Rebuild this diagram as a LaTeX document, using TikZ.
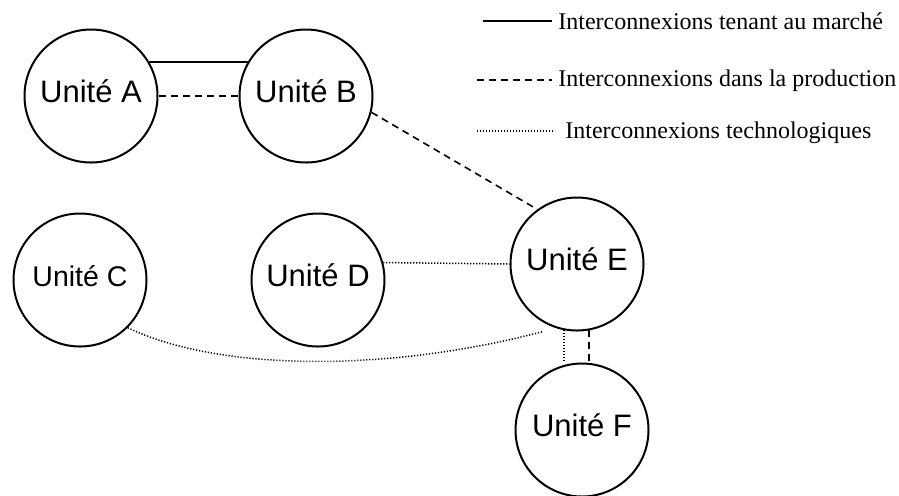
\documentclass[tikz,border=0pt]{standalone}
\usepackage{fontspec}
\setmainfont{Liberation Serif}
\newfontfamily\unitfont{Liberation Sans}
\usetikzlibrary{calc}

\begin{document}
\begin{tikzpicture}[x=0.5pt,y=-0.5pt,
  unit/.style={circle,draw,line width=1pt,minimum size=66.5pt,inner sep=0pt,
    font=\unitfont\fontsize{15.5}{18}\selectfont,text height=11.6pt,text depth=5.1pt},
  market/.style={line width=1pt},
  prod/.style={line width=0.8pt,dash pattern=on 3.5pt off 2.5pt},
  techno/.style={line width=0.75pt,dash pattern=on 0.6pt off 0.9pt},
  legend/.style={anchor=base west,inner xsep=3pt,inner ysep=0pt,font=\fontsize{12}{14}\selectfont}]
\useasboundingbox (0,0) rectangle (899,495);
\node[unit] (A) at (91,96) {Unité A};
\node[unit] (B) at (306,96) {Unité B};
\node[unit,font=\unitfont\fontsize{14.25}{17}\selectfont,text height=10.7pt,text depth=4.7pt] (C) at (80,280) {Unité C};
\node[unit] (D) at (318,280) {Unité D};
\node[unit] (E) at (577,264) {Unité E};
\node[unit] (F) at (582,430) {Unité F};
% legende
\node[legend] (lmarket) at (552,29) {Interconnexions tenant au marché};
\node[legend] (lprod) at (552,86) {Interconnexions dans la production};
\node[legend,inner xsep=5pt] (ltechno) at (555,138) {Interconnexions technologiques};
\coordinate (smarket) at (483,21);
\coordinate (sprod) at (477,80);
\coordinate (stechno) at (477,131);
\draw[market] (smarket) -- (smarket -| lmarket.west);
\draw[prod] (sprod) -- (sprod -| lprod.west);
\draw[techno] (stechno) -- (stechno -| ltechno.west);
% liens
\draw[market] (A.30) -- (B.150);
\draw[prod] (A.east) -- (B.west);
\draw[prod] (B.-14) -- (E.126);
\draw[techno] (D.15) -- (E.west);
\coordinate (Ec) at ($(E.south)+(-34,0)$);
\draw[techno] (C.-45) .. controls (220,372) and (390,372) .. (Ec);
\draw[techno] (E.-101) -- (E.-101 |- F.north);
\draw[prod] (E.-80) -- (E.-80 |- F.north);
\end{tikzpicture}
\end{document}
